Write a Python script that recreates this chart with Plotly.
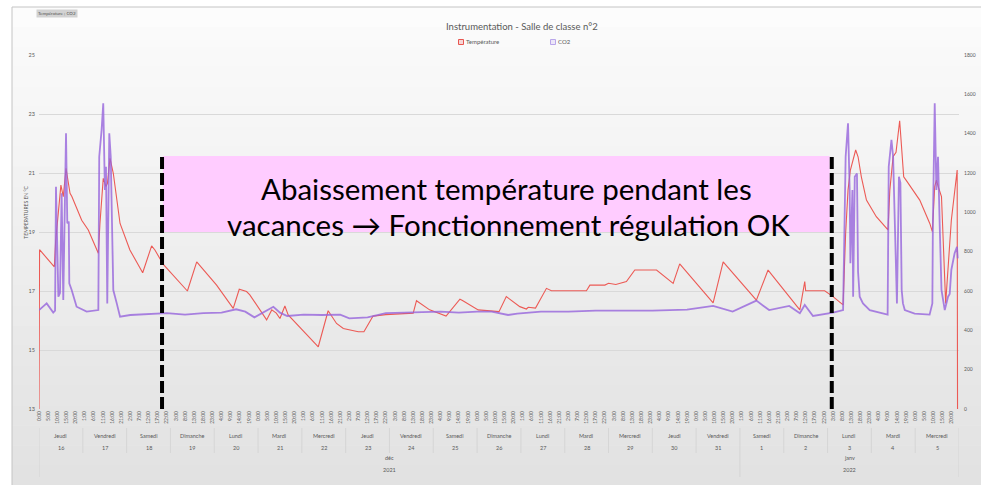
import plotly.graph_objects as go

# ---------------- data ----------------
temp_hours = [
    0, 0.3, 8.4, 9.1, 12, 13.3, 14.8, 17, 18, 23.4,
    27, 32.5, 33.4, 35.2, 36.7, 37.5, 38.9, 40.7, 44.4, 49.8,
    56.8, 61.7, 63.5, 68.1, 81.3, 86.4, 97.3, 106.4, 109.7, 113.7,
    115.5, 124.7, 127.5, 130, 132, 134.7, 136.5, 153, 158.4, 163,
    166.7, 174.9, 178, 181.3, 183, 190, 205, 206.8, 214, 223,
    230.6, 232, 240.6, 252, 256, 263.4, 267, 268, 272, 278,
    280.7, 299.9, 301.8, 310, 312, 316, 321.8, 326.4, 338.3, 347.4,
    351, 369.3, 374.8, 393, 399.4, 416.8, 419.5, 420, 430.4, 435,
    440.5, 441.9, 443.2, 444.5, 446.3, 447.4, 448.7, 450.5, 453.3, 458.7,
    465.1, 466.1, 467.9, 469.5, 471.5, 473.7, 475, 482.5, 488, 489.4,
    490.7, 491.6, 492.8, 494.4, 496.7, 499.8, 503, 503.2,
]
temperature = [
    13.0, 18.4, 17.82, 18.67, 20.59, 20.2, 21.16, 20.31, 20.2, 19.4,
    19.07, 18.28, 19.3, 20.82, 20.54, 20.65, 21.5, 20.99, 19.29, 18.39,
    17.62, 18.53, 18.39, 17.9, 17.0, 17.99, 17.2, 16.41, 17.06, 16.98,
    16.87, 16.02, 16.36, 16.25, 16.07, 16.49, 16.19, 15.11, 16.33, 15.9,
    15.73, 15.62, 15.62, 15.96, 16.15, 16.2, 16.25, 16.67, 16.36, 16.15,
    16.72, 16.68, 16.36, 16.3, 16.81, 16.47, 16.39, 16.45, 16.42, 17.09,
    17.01, 17.01, 17.2, 17.2, 17.26, 17.22, 17.32, 17.71, 17.71, 17.26,
    17.92, 16.6, 17.99, 16.69, 17.71, 16.36, 17.32, 17.01, 17.01, 16.81,
    16.53, 18.96, 20.42, 21.1, 21.5, 21.78, 21.55, 20.87, 20.08, 19.52,
    19.07, 20.42, 21.55, 21.7, 22.77, 20.87, 20.76, 20.08, 19.29, 19.01,
    20.54, 20.76, 20.5, 20.2, 16.58, 19.4, 21.1, 13.0,
]
co2_hours = [
    0, 4.2, 7.8, 8.8, 9.3, 10.6, 11.5, 12.4, 13.3, 14.8,
    15.5, 16.3, 16.6, 17.9, 20.6, 26.1, 32.5, 33.0, 34.3, 35.2,
    36.1, 36.7, 37.4, 38.5, 39.3, 40.0, 40.7, 42.6, 44.4, 50,
    60, 70, 80, 90, 100, 108, 113, 118, 128.4, 132,
    136, 145, 155, 165, 170, 180, 190, 200, 210, 220,
    230, 240, 248, 257, 262, 275, 290, 305, 320, 336,
    355, 369.3, 380, 393, 400, 411, 416.8, 419.5, 424, 435,
    440.5, 441.9, 443.2, 444.1, 444.5, 445.6, 446.0, 446.9, 448.1, 448.7,
    449.6, 451.4, 455.1, 464.2, 464.9, 465.5, 467.0, 467.9, 468.8, 469.4,
    470.0, 471.1, 471.9, 472.6, 473.3, 474.3, 479.7, 487.9, 489.4, 489.7,
    490.7, 491.6, 492.5, 493.4, 494.4, 496.2, 498.0, 498.9, 499.8, 501.6,
    502.9, 503.3,
]
co2 = [
    503, 537, 490, 500, 1130, 571, 590, 1097, 554, 1402,
    944, 953, 639, 605, 520, 495, 503, 1283, 1419, 1554,
    1114, 1232, 537, 1402, 1283, 910, 605, 537, 469, 478,
    482, 487, 480, 487, 490, 507, 495, 466, 520, 490,
    473, 480, 478, 480, 461, 466, 487, 490, 490, 495,
    490, 495, 495, 478, 485, 495, 495, 500, 500, 500,
    505, 524, 495, 551, 503, 524, 487, 529, 473, 490,
    503, 1283, 1453, 1114, 741, 1114, 571, 1181, 1198, 698,
    571, 537, 503, 478, 480, 1232, 1368, 1283, 978, 673,
    537, 1181, 1150, 605, 537, 503, 485, 480, 537, 944,
    1554, 1114, 1283, 944, 605, 503, 571, 585, 707, 792,
    825, 766,
]

day_names = ["Jeudi", "Vendredi", "Samedi", "Dimanche", "Lundi", "Mardi", "Mercredi",
             "Jeudi", "Vendredi", "Samedi", "Dimanche", "Lundi", "Mardi", "Mercredi",
             "Jeudi", "Vendredi", "Samedi", "Dimanche", "Lundi", "Mardi", "Mercredi"]
day_numbers = ["16", "17", "18", "19", "20", "21", "22", "23", "24", "25", "26",
               "27", "28", "29", "30", "31", "1", "2", "3", "4", "5"]
months = ["déc", "janv"]
years = ["2021", "2022"]
month_start_day = [0, 16, 21]
tick_hours = list(range(0, 504, 5))
tick_text = [f"{h % 24}:00" for h in tick_hours]

holiday_start, holiday_end = 67.4, 434.3   # hours, dashed markers
box_x0, box_x1, box_y0, box_y1 = 67.9, 433.2, 19.0, 21.58

# ---------------- figure ----------------
W, H = 981, 485
L, R, T, B = 39, 22, 55, 76
PW, PH = W - L - R, H - T - B


def px(xp):
    return (xp - L) / PW


def py(yp):
    return (H - B - yp) / PH


FONT = "Lato"
GREY = "#595959"

fig = go.Figure()
fig.add_trace(go.Scatter(x=co2_hours, y=co2, yaxis="y2", mode="lines",
                         line=dict(color="rgba(150,100,220,0.8)", width=1.8),
                         name="CO2", showlegend=False))
fig.add_trace(go.Scatter(x=temp_hours, y=temperature, mode="lines",
                         line=dict(color="#ec5a55", width=1.1),
                         name="Température", showlegend=False))

shapes = []
# background gradient bands (styling)
n_bands = 24
top, bot = 7, H
for i in range(n_bands):
    y0 = top + (bot - top) * i / n_bands
    y1 = top + (bot - top) * (i + 1) / n_bands + 0.5
    g = int(252 - (252 - 226) * i / (n_bands - 1))
    shapes.append(dict(type="rect", xref="paper", yref="paper", layer="below",
                       x0=px(12), x1=px(W + 2), y0=py(y1), y1=py(y0),
                       fillcolor=f"rgb({g},{g},{g})", line=dict(width=0)))
shapes.append(dict(type="rect", xref="paper", yref="paper", layer="below",
                   x0=px(12), x1=px(W + 5), y0=py(H + 5), y1=py(7),
                   fillcolor="rgba(0,0,0,0)", line=dict(color="#c4c4c4", width=1)))

# day separators and month separators under axis
for d in range(1, 21):
    if d in month_start_day:
        continue
    shapes.append(dict(type="line", xref="x", yref="paper", x0=24 * d, x1=24 * d,
                       y0=py(428), y1=py(453), line=dict(color="#d2d2d2", width=0.8)))
for d in month_start_day:
    shapes.append(dict(type="line", xref="x", yref="paper", x0=24 * d, x1=24 * d,
                       y0=py(428), y1=py(477), line=dict(color="#d2d2d2", width=0.8)))

# highlight box and dashed markers
shapes.append(dict(type="rect", xref="x", yref="y", x0=box_x0, x1=box_x1,
                   y0=box_y0, y1=box_y1, fillcolor="#ffccff", line=dict(width=0),
                   layer="above"))
for hx in (holiday_start, holiday_end):
    shapes.append(dict(type="line", xref="x", yref="y", x0=hx, x1=hx, y0=13, y1=21.62,
                       line=dict(color="black", width=4, dash="12px,4px"), layer="above"))

# legend squares
shapes.append(dict(type="rect", xref="paper", yref="paper", x0=px(458.5), x1=px(463.5),
                   y0=py(44.5), y1=py(39.5), fillcolor="#f6d5d5",
                   line=dict(color="#e8554f", width=1)))
shapes.append(dict(type="rect", xref="paper", yref="paper", x0=px(550.5), x1=px(555.5),
                   y0=py(44.5), y1=py(39.5), fillcolor="#ece6f8",
                   line=dict(color="#b9a6ea", width=1)))

ann = []
small = dict(family=FONT, size=5.5, color=GREY)
for d in range(21):
    ann.append(dict(x=24 * d + 12, y=py(436), xref="x", yref="paper", text=day_names[d],
                    showarrow=False, font=small, yanchor="middle"))
    ann.append(dict(x=24 * d + 12, y=py(448), xref="x", yref="paper", text=day_numbers[d],
                    showarrow=False, font=small, yanchor="middle"))
for i in range(2):
    xc = 12 * (month_start_day[i] + month_start_day[i + 1])
    ann.append(dict(x=xc, y=py(458), xref="x", yref="paper", text=months[i],
                    showarrow=False, font=small, yanchor="middle"))
    ann.append(dict(x=xc, y=py(470), xref="x", yref="paper", text=years[i],
                    showarrow=False, font=small, yanchor="middle"))

ann.append(dict(x=px(521.7), y=py(26.5), xref="paper", yref="paper",
                text="Instrumentation - Salle de classe n°2", showarrow=False,
                font=dict(family=FONT, size=9.5, color=GREY), yanchor="middle"))
ann.append(dict(x=px(464), y=py(42), xref="paper", yref="paper", text="Température",
                showarrow=False, xanchor="left", yanchor="middle",
                font=dict(family=FONT, size=6, color=GREY)))
ann.append(dict(x=px(556), y=py(42), xref="paper", yref="paper", text="CO2",
                showarrow=False, xanchor="left", yanchor="middle",
                font=dict(family=FONT, size=6, color=GREY)))
ann.append(dict(x=px(36), y=py(13.4), xref="paper", yref="paper", text="Température ; CO2",
                showarrow=False, yanchor="middle", bgcolor="#d2d2d2", borderpad=1,
                font=dict(family=FONT, size=4.5, color="#505050")))
ann.append(dict(x=px(20.7), y=py(212), xref="paper", yref="paper",
                text="TEMPERATURES EN °C", textangle=-90, showarrow=False,
                font=dict(family=FONT, size=5, color=GREY)))
ann.append(dict(x=px(506), y=py(188), xref="paper", yref="paper",
                text="Abaissement température pendant les", showarrow=False,
                yanchor="middle", font=dict(family=FONT, size=29.5, color="black")))
ann.append(dict(x=px(508), y=py(224), xref="paper", yref="paper",
                text="vacances → Fonctionnement régulation OK", showarrow=False,
                yanchor="middle", font=dict(family=FONT, size=29.5, color="black")))

fig.update_layout(
    width=W, height=H, autosize=False,
    margin=dict(l=L, r=R, t=T, b=B, pad=0),
    paper_bgcolor="white", plot_bgcolor="rgba(0,0,0,0)",
    showlegend=False,
    shapes=shapes, annotations=ann,
    xaxis=dict(range=[0, 504], tickmode="array", tickvals=tick_hours, ticktext=tick_text,
               tickangle=-90, tickfont=dict(family=FONT, size=5, color=GREY),
               showgrid=False, zeroline=False, showline=False, ticks="",
               automargin=False, fixedrange=True),
    yaxis=dict(range=[13, 25], dtick=2, tick0=13, showgrid=True, gridcolor="#d9d9d9",
               gridwidth=0.8, zeroline=False, showline=False, ticks="",
               tickfont=dict(family=FONT, size=5.5, color=GREY), automargin=False,
               ticklabelstandoff=3),
    yaxis2=dict(range=[0, 1800], dtick=200, overlaying="y", side="right", showgrid=False,
                zeroline=False, showline=False, ticks="",
                tickfont=dict(family=FONT, size=5, color=GREY), automargin=False,
                ticklabelstandoff=4),
)

fig.write_html("out.html", config={"displayModeBar": False},
               post_script="document.body.style.margin='0';"
                           "document.body.style.overflow='hidden';")
